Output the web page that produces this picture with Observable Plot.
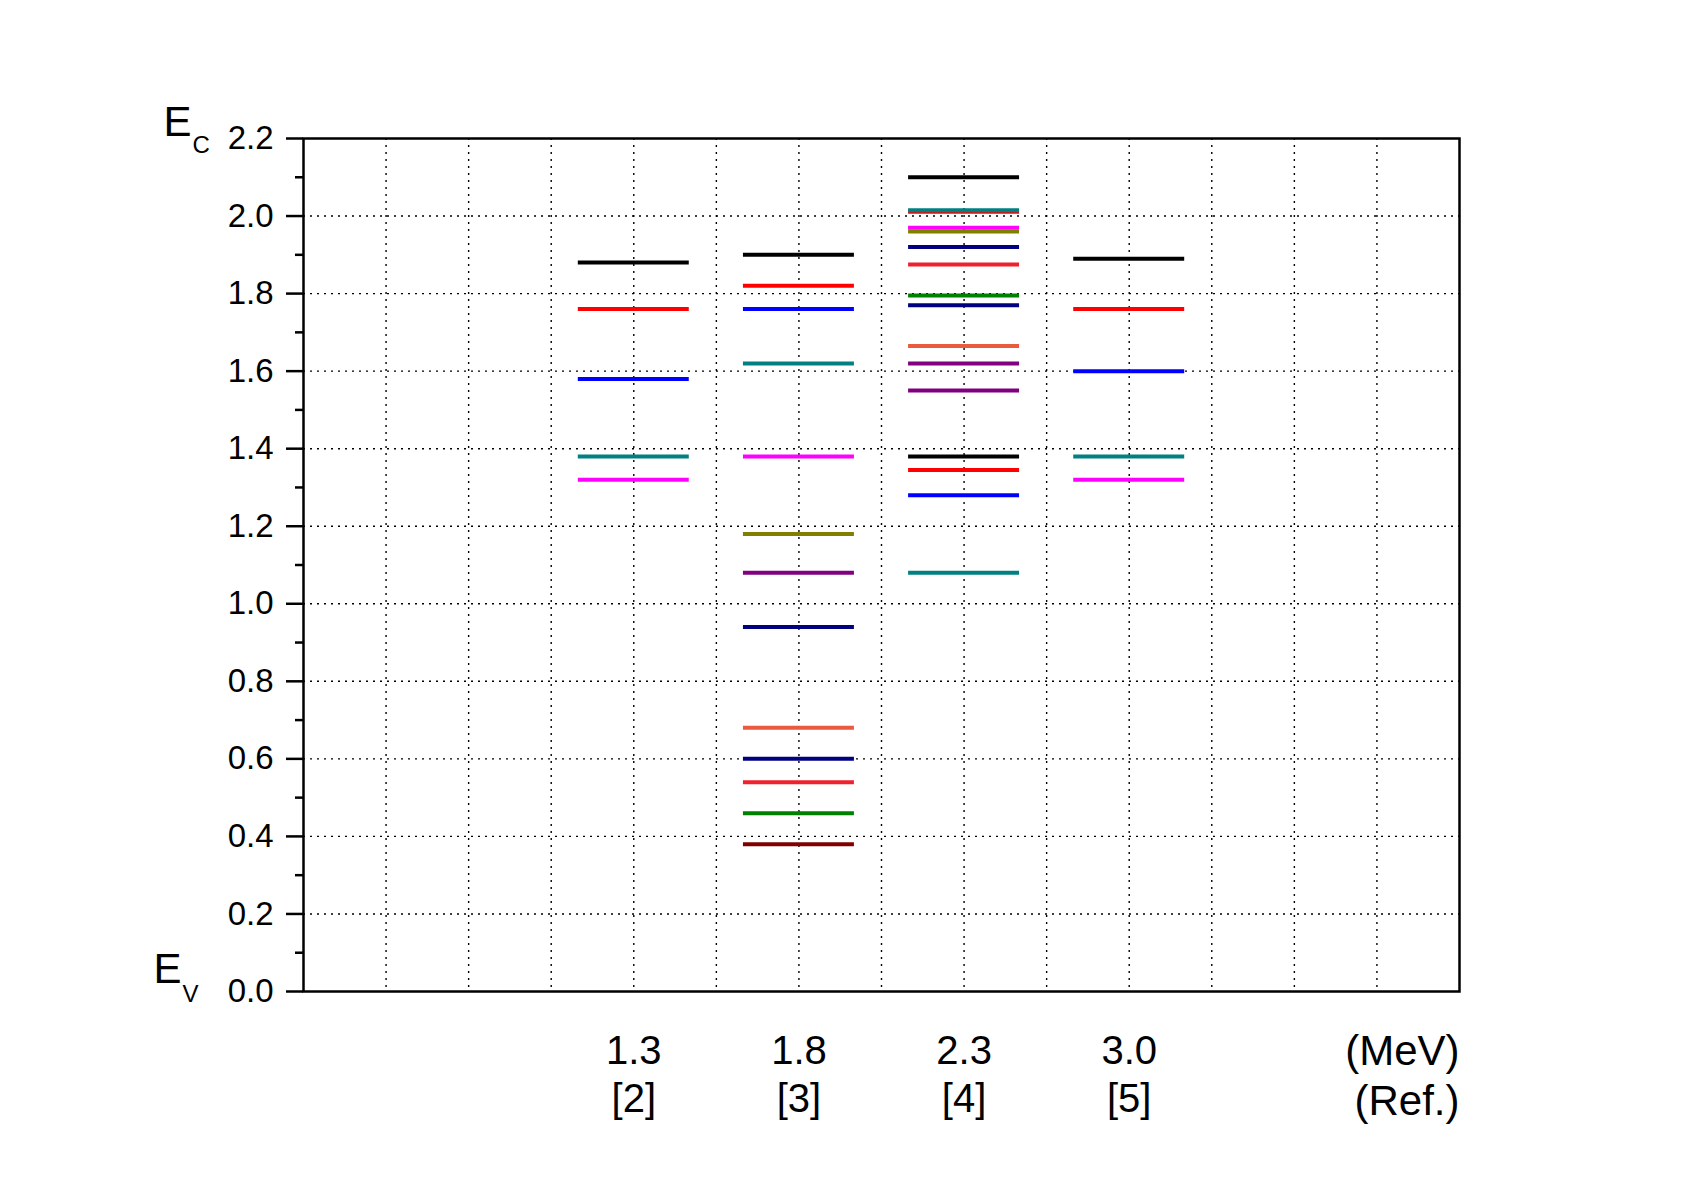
<!DOCTYPE html>
<html>
<head>
<meta charset="utf-8">
<script src="https://cdn.jsdelivr.net/npm/d3@7"></script>
<script src="https://cdn.jsdelivr.net/npm/@observablehq/plot@0.6"></script>
<style>
  html, body { margin: 0; padding: 0; background: #fff; }
  #chart { width: 1695px; height: 1189px; }
</style>
</head>
<body>
<div id="chart"></div>
<script>
// Column categories (implant energy and reference)
const energies = ["1.3", "1.8", "2.3", "3.0"];
const refs = ["[2]", "[3]", "[4]", "[5]"];
const slots = [4, 6, 8, 10];

// Trap levels (eV above E_V) for each column, with colours
const levels13 = [1.88, 1.76, 1.58, 1.38, 1.32];
const colors13 = ["#000000", "#FF0000", "#0000FF", "#008080", "#FF00FF"];

const levels18 = [1.90, 1.82, 1.76, 1.62, 1.38, 1.18, 1.08, 0.94, 0.68, 0.60, 0.54, 0.46, 0.38];
const colors18 = ["#000000", "#FF0000", "#0000FF", "#008080", "#FF00FF", "#808000", "#800080", "#000080", "#EA5A3E", "#000080", "#F0202F", "#008000", "#800000"];

const levels23 = [2.10, 2.011, 2.015, 1.97, 1.96, 1.92, 1.875, 1.795, 1.77, 1.665, 1.62, 1.55, 1.38, 1.345, 1.28, 1.08];
const colors23 = ["#000000", "#FF0000", "#008080", "#FF00FF", "#808000", "#000080", "#F0202F", "#008000", "#000080", "#EA5A3E", "#800080", "#800080", "#000000", "#FF0000", "#0000FF", "#008080"];

const levels30 = [1.89, 1.76, 1.60, 1.38, 1.32];
const colors30 = ["#000000", "#FF0000", "#0000FF", "#008080", "#FF00FF"];

// Axis ticks
const majorTicks = [0.0, 0.2, 0.4, 0.6, 0.8, 1.0, 1.2, 1.4, 1.6, 1.8, 2.0, 2.2];
const minorTicks = [0.1, 0.3, 0.5, 0.7, 0.9, 1.1, 1.3, 1.5, 1.7, 1.9, 2.1];
const gridYTicks = [0.2, 0.4, 0.6, 0.8, 1.0, 1.2, 1.4, 1.6, 1.8, 2.0];
const gridXTicks = [1, 2, 3, 4, 5, 6, 7, 8, 9, 10, 11, 12, 13];

// Band edges
const bandEdges = [
  {label: "E", sub: "C", value: 2.2},
  {label: "E", sub: "V", value: 0.0}
];
const unitLabels = {energy: "(MeV)", ref: "(Ref.)"};

// Build table
const allLevels = [levels13, levels18, levels23, levels30];
const allColors = [colors13, colors18, colors23, colors30];
const table = [];
allLevels.forEach((lv, c) => {
  lv.forEach((v, i) => table.push({slot: slots[c], energy: v, color: allColors[c][i]}));
});
const columns = energies.map((e, i) => ({slot: slots[i], energy: e, ref: refs[i]}));

const halfWidth = 0.672;
const font = "'Liberation Sans', Arial, sans-serif";
const gridStyle = {stroke: "#000", strokeOpacity: 1, strokeWidth: 1.4, strokeDasharray: "2,5"};

const chart = Plot.plot({
  width: 1695,
  height: 1189,
  marginLeft: 303,
  marginRight: 236,
  marginTop: 138,
  marginBottom: 198,
  style: {background: "#fff", color: "#000", fontFamily: font},
  x: {domain: [0, 14], axis: null},
  y: {domain: [0, 2.2], axis: null},
  marks: [
    Plot.gridX(gridXTicks, gridStyle),
    Plot.gridY(gridYTicks, gridStyle),
    Plot.ruleY(table, {
      y: "energy",
      x1: d => d.slot - halfWidth,
      x2: d => d.slot + halfWidth,
      stroke: "color",
      strokeWidth: 4
    }),
    Plot.frame({stroke: "#000", strokeWidth: 2.5}),
    Plot.axisY(majorTicks, {
      tickSize: 17, tickPadding: 13, strokeWidth: 2.5, fontSize: 33,
      tickFormat: d => d.toFixed(1), label: null
    }),
    Plot.axisY(minorTicks, {tickSize: 8, strokeWidth: 2.5, fill: "none", label: null}),
    // x category labels
    Plot.text(columns, {x: "slot", y: () => 0, text: "energy", fontSize: 40, lineAnchor: "bottom", dy: 72}),
    Plot.text(columns, {x: "slot", y: () => 0, text: "ref", fontSize: 40, lineAnchor: "bottom", dy: 120}),
    Plot.text([unitLabels], {x: () => 14, y: () => 0, text: "energy", fontSize: 42, textAnchor: "end", lineAnchor: "bottom", dy: 73}),
    Plot.text([unitLabels], {x: () => 14, y: () => 0, text: "ref", fontSize: 42, textAnchor: "end", lineAnchor: "bottom", dy: 123}),
    // band-edge labels: E_C (top) and E_V (bottom)
    Plot.text([bandEdges[0]], {x: () => 0, y: "value", text: "label", fontSize: 42, textAnchor: "start", lineAnchor: "bottom", dx: -140, dy: -3}),
    Plot.text([bandEdges[0]], {x: () => 0, y: "value", text: "sub", fontSize: 24, textAnchor: "start", lineAnchor: "bottom", dx: -111, dy: 14}),
    Plot.text([bandEdges[1]], {x: () => 0, y: "value", text: "label", fontSize: 42, textAnchor: "start", lineAnchor: "bottom", dx: -150, dy: -9}),
    Plot.text([bandEdges[1]], {x: () => 0, y: "value", text: "sub", fontSize: 24, textAnchor: "start", lineAnchor: "bottom", dx: -121, dy: 10})
  ]
});

document.getElementById("chart").appendChild(chart);
</script>
</body>
</html>
